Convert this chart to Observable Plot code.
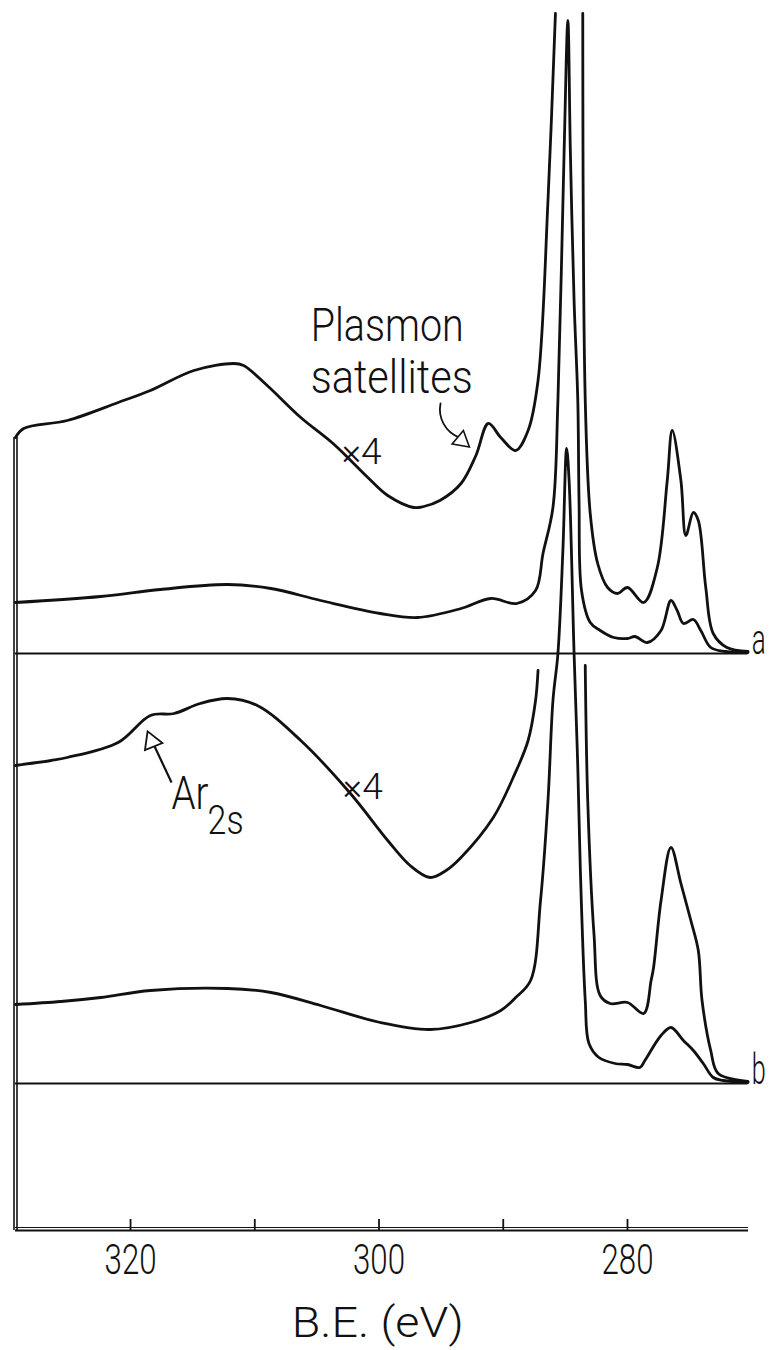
<!DOCTYPE html>
<html><head><meta charset="utf-8">
<script src="https://cdn.jsdelivr.net/npm/d3@7"></script>
<script src="https://cdn.jsdelivr.net/npm/@observablehq/plot@0.6"></script>
<style>body{margin:0;background:#fff} svg{display:block}</style>
</head><body><div id="chart"></div>
<script>
// Binding energy (eV) vs. intensity above each spectrum's own baseline (arb. units)
const aX4_seg1 = [[329.26,216],[328.6,225],[325.1,233],[321.0,251],[318.4,263],[314.9,283],[311.7,290],[310.9,288],[309.0,268],[306.3,236],[303.7,210],[300.9,176],[299.3,158],[297.2,146],[296.4,147],[295.1,153],[293.4,170],[292.2,198],[291.2,230],[290.2,216],[289.0,203],[288.0,223],[287.2,273],[286.4,453],[285.8,640]];
const aX4_seg2 = [[283.6,640],[283.4,253],[283.0,140],[282.4,90],[281.6,66],[280.8,60],[280.0,66],[278.7,51],[277.6,86],[276.8,173],[276.4,223],[275.7,173],[275.3,118],[274.7,141],[274.3,133],[273.7,66],[273.1,20],[272.0,6],[270.3,2]];
const aX1 = [[329.26,51],[322.4,57],[317.6,64],[312.2,69],[308.7,65],[304.7,53],[299.9,40],[296.9,36],[293.4,45],[291.0,55],[288.9,50],[287.4,63],[286.8,100],[286.0,146],[285.6,253],[285.1,503],[284.8,633],[284.6,503],[284.3,353],[284.0,253],[283.9,153],[283.7,63],[283.0,31],[282.2,23],[281.1,16],[280.0,15],[279.4,17],[278.4,11],[277.3,23],[276.5,53],[276.0,43],[275.5,30],[274.7,34],[274.1,23],[273.3,6],[272.1,2],[270.3,1]];
const bX4_seg1 = [[329.26,318],[326.4,323],[325.1,326],[321.0,341],[318.4,368],[316.5,370],[314.4,380],[312.2,385],[309.8,378],[306.3,343],[302.3,290],[299.3,243],[297.5,218],[295.9,206],[294.6,213],[293.4,226],[290.8,266],[289.2,306],[288.0,343],[287.4,383],[287.2,413]];
const bX4_seg2 = [[283.4,418],[283.2,283],[282.7,150],[282.2,88],[281.4,80],[280.0,81],[278.7,70],[278.1,103],[277.9,116],[277.3,183],[276.5,236],[275.7,200],[274.9,163],[274.3,133],[274.0,83],[273.3,33],[272.7,10],[270.3,2]];
const bX1 = [[329.26,79],[325.6,82],[322.4,86],[318.4,93],[312.2,95],[308.7,91],[304.7,78],[299.9,61],[295.9,54],[292.6,61],[290.2,73],[289.0,86],[287.8,103],[287.0,183],[286.4,283],[286.0,383],[285.6,430],[285.2,533],[284.9,635],[284.7,603],[284.3,430],[284.0,316],[283.8,216],[283.4,83],[283.1,40],[282.3,26],[281.0,20],[280.0,19],[279.0,16],[278.6,23],[277.3,48],[276.5,56],[275.5,43],[274.7,33],[273.9,20],[273.1,6],[272.3,3],[270.3,1]];
const spectrumOffset = {a: 577, b: 147};
const tickValues = [320, 310, 300, 290, 280];
const tickLabels = [320, 300, 280];
const xLabel = "B.E. (eV)";
const beMax = 329.26, beMin = 270.26;

const rows = [];
function add(arr, spec, seg) { for (const [be, v] of arr) rows.push({be, v: v + spectrumOffset[spec], seg}); }
add(aX4_seg1, "a", "a4-1"); add(aX4_seg2, "a", "a4-2"); add(aX1, "a", "a1");
add(bX4_seg1, "b", "b4-1"); add(bX4_seg2, "b", "b4-2"); add(bX1, "b", "b1");

const FONT = "Roboto, 'DejaVu Sans', sans-serif";
const txt = (data, opts) => Plot.text(data, {fontFamily: FONT, fontWeight: 300, fill: "#111", ...opts});
const AX = 1230; // plot-frame height above the x axis
const up = px => AX - px; // helper converting a page row to the y scale

const chart = Plot.plot({
  width: 775, height: 1350,
  marginLeft: 15, marginRight: 27, marginTop: 0, marginBottom: 1350 - AX,
  x: {domain: [beMax, beMin], axis: null},
  y: {domain: [0, AX], axis: null},
  marks: [
    Plot.ruleY([0], {x1: beMax, x2: beMin, stroke: "#111", strokeWidth: 2}),
    Plot.ruleY([3], {x1: beMax, x2: beMin, stroke: "#111", strokeWidth: 1}),
    Plot.ruleX([beMax], {y1: 0, y2: aX4_seg1[0][1] + spectrumOffset.a, stroke: "#111", strokeWidth: 1.6, dx: -1.5}),
    Plot.ruleX([beMax], {y1: 0, y2: aX4_seg1[0][1] + spectrumOffset.a, stroke: "#111", strokeWidth: 1.6, dx: 1.5}),
    Plot.ruleX(tickValues, {y1: 0, y2: 11, stroke: "#111", strokeWidth: 1.8}),
    Plot.ruleY([spectrumOffset.a, spectrumOffset.b], {x1: beMax, x2: 270.3, stroke: "#111", strokeWidth: 1.8}),
    Plot.line(rows, {x: "be", y: "v", z: "seg", stroke: "#111", strokeWidth: 2.8, curve: "catmull-rom", strokeLinejoin: "round"}),
    txt(tickLabels, {x: d => d, y: -14, text: d => String(d), fontSize: 42, textAnchor: "middle", lineAnchor: "top"}),
    txt([xLabel], {x: 300.1, y: -106, text: d => d, fontSize: 42, textAnchor: "middle", lineAnchor: "bottom"}),
    txt(["Plasmon"], {x: 305.5, y: up(340), text: d => d, fontSize: 46, textAnchor: "start", lineAnchor: "bottom"}),
    txt(["satellites"], {x: 305.5, y: up(392), text: d => d, fontSize: 46, textAnchor: "start", lineAnchor: "bottom"}),
    txt(["×4"], {x: 301.4, y: up(463), text: d => d, fontSize: 36, textAnchor: "middle", lineAnchor: "bottom"}),
    txt(["×4"], {x: 301.3, y: up(798), text: d => d, fontSize: 36, textAnchor: "middle", lineAnchor: "bottom"}),
    txt(["Ar"], {x: 316.7, y: up(808), text: d => d, fontSize: 46, textAnchor: "start", lineAnchor: "bottom"}),
    txt(["2s"], {x: 313.8, y: up(833), text: d => d, fontSize: 40, textAnchor: "start", lineAnchor: "bottom"}),
    txt(["a"], {x: 270.0, y: spectrumOffset.a, text: d => d, fontSize: 42, textAnchor: "start", lineAnchor: "bottom"}),
    txt(["b"], {x: 270.0, y: spectrumOffset.b, text: d => d, fontSize: 42, textAnchor: "start", lineAnchor: "bottom"}),
    Plot.link([{x1: 316.7, y1: up(782), x2: 318.1, y2: up(745)}], {x1: "x1", y1: "y1", x2: "x2", y2: "y2", stroke: "#111", strokeWidth: 2.2}),
    Plot.dot([{x: 318.3, y: up(741)}], {x: "x", y: "y", symbol: "triangle", r: 7, rotate: -22, fill: "white", stroke: "#111", strokeWidth: 1.8}),
    Plot.arrow([{x1: 295.05, y1: up(403), x2: 293.55, y2: up(437)}], {x1: "x1", y1: "y1", x2: "x2", y2: "y2", stroke: "#111", strokeWidth: 1.8, headLength: 0, bend: -40}),
    Plot.dot([{x: 293.35, y: up(440)}], {x: "x", y: "y", symbol: "triangle", r: 6.5, rotate: 130, fill: "white", stroke: "#111", strokeWidth: 1.6})
  ]
});
document.getElementById("chart").appendChild(chart);

const widths = {"Plasmon": 153, "satellites": 162, "Ar": 37, "2s": 36, "×4": 40, "320": 52, "300": 52, "280": 52, "B.E. (eV)": 172, "a": 14, "b": 14};
chart.querySelectorAll("text").forEach(t => {
  const w = widths[t.textContent];
  if (w) { t.setAttribute("textLength", w); t.setAttribute("lengthAdjust", "spacingAndGlyphs"); }
});
</script>
</body></html>
